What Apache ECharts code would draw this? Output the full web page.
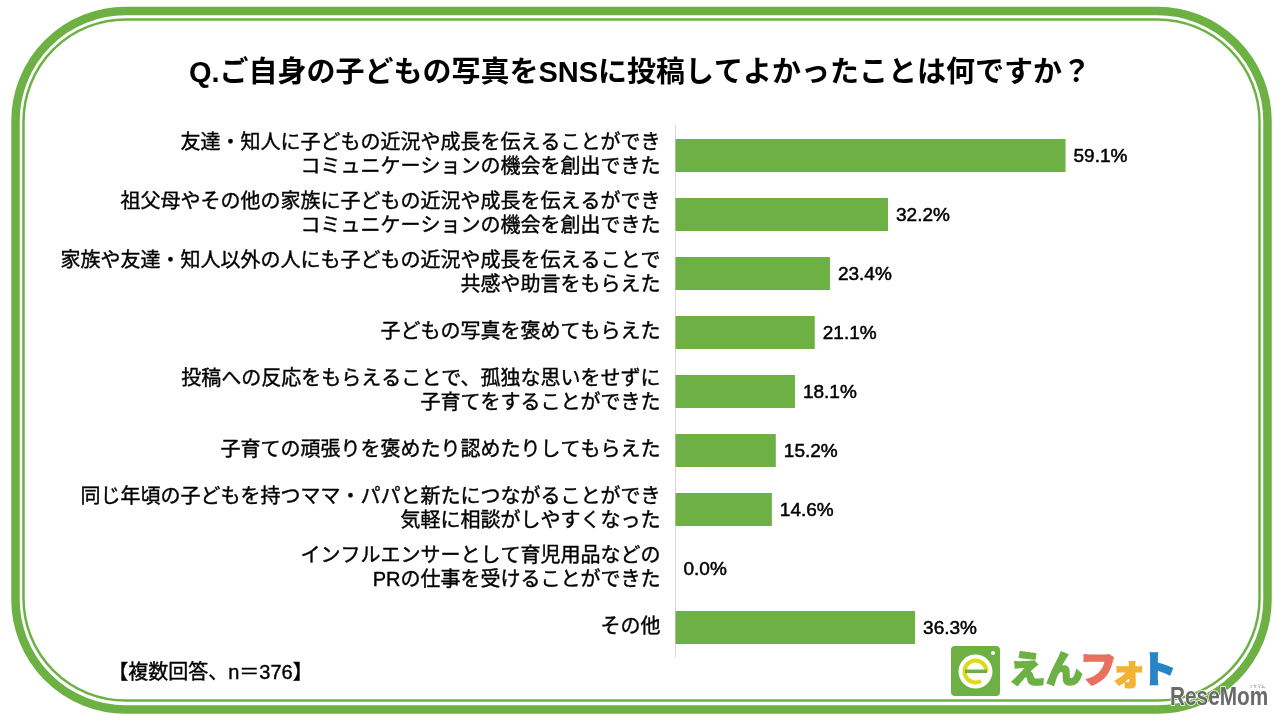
<!DOCTYPE html>
<html><head><meta charset="utf-8">
<style>html,body{margin:0;padding:0;background:#fff}#c{width:1280px;height:720px}</style>
<script src="https://cdn.jsdelivr.net/npm/echarts@6/dist/echarts.min.js"></script></head>
<body><div id="c"></div>
<script>
const titleText = 'Q.ご自身の子どもの写真をSNSに投稿してよかったことは何ですか？';
const noteText = '【複数回答、n＝376】';
const categories = [
 '友達・知人に子どもの近況や成長を伝えることができ\nコミュニケーションの機会を創出できた',
 '祖父母やその他の家族に子どもの近況や成長を伝えるができ\nコミュニケーションの機会を創出できた',
 '家族や友達・知人以外の人にも子どもの近況や成長を伝えることで\n共感や助言をもらえた',
 '子どもの写真を褒めてもらえた',
 '投稿への反応をもらえることで、孤独な思いをせずに\n子育てをすることができた',
 '子育ての頑張りを褒めたり認めたりしてもらえた',
 '同じ年頃の子どもを持つママ・パパと新たにつながることができ\n気軽に相談がしやすくなった',
 'インフルエンサーとして育児用品などの\nPRの仕事を受けることができた',
 'その他'
];
const values = [59.1, 32.2, 23.4, 21.1, 18.1, 15.2, 14.6, 0.0, 36.3];
const GREEN = '#6DB144';
const FONT = '"Liberation Sans","Noto Sans CJK JP",sans-serif';
const LOGO = '900 37px "Noto Sans CJK JP"';
const chart = echarts.init(document.getElementById('c'), null, {renderer:'canvas'});
chart.setOption({
  animation:false,
  grid:{left:675.5, top:126, width:590, height:531, containLabel:false},
  xAxis:{type:'value', min:0, max:89.4, show:false},
  yAxis:{type:'category', inverse:true, data:categories,
    axisLine:{show:true,lineStyle:{color:'#D9D9D9',width:1}}, axisTick:{show:false}, splitLine:{show:false},
    axisLabel:{color:'#000', fontFamily:FONT, fontSize:20, lineHeight:24, align:'right', margin:15, interval:0,
      padding:[4,0,0,0], textBorderColor:'#000', textBorderWidth:0.4}},
  series:[{type:'bar', data:values, barWidth:33, itemStyle:{color:GREEN},
    label:{show:true, position:'right', distance:8, offset:[0,1], color:'#000', fontFamily:FONT, fontSize:19,
      textBorderColor:'#000', textBorderWidth:0.5, formatter:p=>p.value.toFixed(1)+'%'}}],
  graphic:[
    {type:'rect', silent:true, z:-1, shape:{x:15.5,y:11,width:1252,height:698.5,r:110}, style:{fill:'none',stroke:GREEN,lineWidth:8.5}},
    {type:'rect', silent:true, z:-1, shape:{x:23.5,y:19.5,width:1236,height:681,r:102}, style:{fill:'none',stroke:GREEN,lineWidth:2.5}},
    {type:'text', left:'center', top:59, style:{text:titleText, fill:'#000', font:'bold 29px '+FONT}},
    {type:'text', left:108, top:663, style:{text:noteText, fill:'#000', font:'20px '+FONT, stroke:'#000', lineWidth:0.4}},
    {type:'rect', shape:{x:951,y:646,width:49,height:50,r:4}, style:{fill:GREEN}},
    {type:'circle', shape:{cx:975.5,cy:671.5,r:17}, style:{fill:'#fff'}},
    {type:'arc', shape:{cx:975.5,cy:671.5,r:11,startAngle:0,endAngle:1.05,clockwise:false}, style:{fill:'none',stroke:'#DDDB17',lineWidth:4}},
    {type:'rect', shape:{x:965,y:669.5,width:22,height:3.5}, style:{fill:GREEN}},
    {type:'circle', shape:{cx:993,cy:653,r:2}, style:{fill:'#fff'}},
    {type:'text', left:1008, top:650, style:{text:'えん', fill:GREEN, stroke:GREEN, lineWidth:1.5, font:LOGO}},
    {type:'text', left:1079, top:650, style:{text:'フ', fill:'#E8705F', stroke:'#E8705F', lineWidth:1.5, font:LOGO}},
    {type:'text', left:1110, top:652, style:{text:'ォ', fill:'#F2B233', stroke:'#F2B233', lineWidth:1.5, font:'900 35px "Noto Sans CJK JP"'}},
    {type:'text', left:1139, top:650, style:{text:'ト', fill:'#2784C6', stroke:'#2784C6', lineWidth:1.5, font:LOGO}},
    {type:'text', x:1170, y:685, scaleX:0.8, style:{text:'ReseMom', fill:'#6A6A6A', stroke:'#fff', lineWidth:1.5, font:'bold 26px "Liberation Sans",sans-serif'}},
    {type:'text', left:1249, top:684, style:{text:'リセマム', fill:'#777', font:'4px "Noto Sans CJK JP"'}}
  ]
});
</script></body></html>
